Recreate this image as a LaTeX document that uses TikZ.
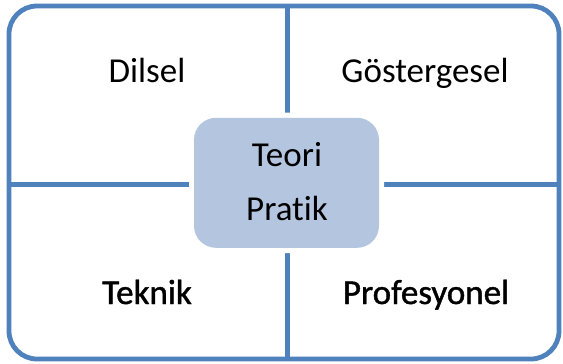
\documentclass[tikz,border=0pt]{standalone}
\usepackage{fontspec}
\setmainfont[Ligatures={NoCommon}]{Carlito}
\newfontfamily\heavyfont[Ligatures={NoCommon}, FakeBold=1.2]{Carlito}
\definecolor{lineblue}{RGB}{79,129,189}
\definecolor{boxfill}{RGB}{180,197,224}
\begin{document}
\begin{tikzpicture}[x=1bp,y=-1bp,
  txt/.style={anchor=base, inner sep=0pt, text=black, font=\fontsize{35bp}{42bp}\selectfont},
  heavytxt/.style={txt, font=\heavyfont\fontsize{35bp}{42bp}\selectfont},
  divider/.style={draw=lineblue, line width=5bp},
  frame/.style={draw=lineblue, line width=4.8bp, rounded corners=28bp},
  centerbox/.style={fill=boxfill, rounded corners=22bp, minimum width=185bp, minimum height=130bp, inner sep=0pt}]
\useasboundingbox (0,0) rectangle (563,363);
\draw[frame] (9,6) rectangle (559,359);
\coordinate (ctop) at (287,6);
\coordinate (cbot) at (287,359);
\coordinate (cleft) at (9,184);
\coordinate (cright) at (559,184);
\draw[divider] (ctop) -- (cbot);
\draw[divider] (cleft) -- (cright);
\fill[white, rounded corners=27bp] (189,112.5) rectangle (384,253);
\node[centerbox] (center) at (286.5,182.8) {};
\node[txt] (teori) at (287,166) {Teori};
\node[txt] (pratik) at (287,220) {Pratik};
\node[txt] (dilsel) at (147,82) {Dilsel};
\node[txt] (gosterge) at (425,82) {Göstergesel};
\node[heavytxt] (teknik) at (147,304) {Teknik};
\node[heavytxt] (prof) at (426,304) {Profesyonel};
\end{tikzpicture}
\end{document}
